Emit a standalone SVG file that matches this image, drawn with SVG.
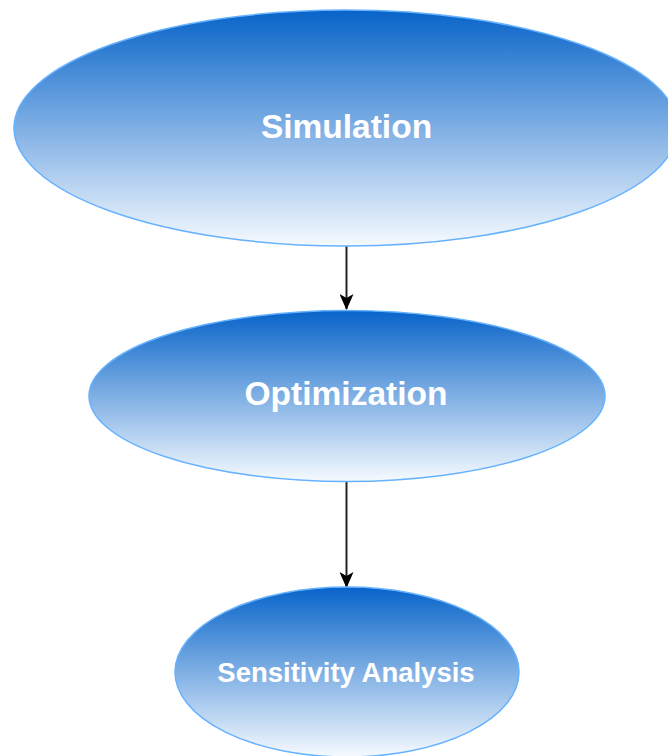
<svg xmlns="http://www.w3.org/2000/svg" width="668" height="756" viewBox="0 0 668 756">
  <style>
    .node { fill: url(#blueGrad); stroke: #66b2ff; stroke-width: 1.5; }
    .label { fill: #ffffff; font-family: "Liberation Sans", Arial, sans-serif; font-weight: bold; text-anchor: middle; }
    .edge { stroke: #222222; stroke-width: 2; fill: none; marker-end: url(#arrow); }
  </style>
  <defs>
    <linearGradient id="blueGrad" x1="0" y1="0" x2="0" y2="1">
      <stop offset="0" stop-color="#0864c9"/>
      <stop offset="1" stop-color="#f6faff"/>
    </linearGradient>
    <marker id="arrow" markerWidth="16" markerHeight="14" refX="15" refY="7" orient="auto" markerUnits="userSpaceOnUse" viewBox="0 0 16 14">
      <path d="M0,0 L16,7 L0,14 L4,7 Z" fill="#000000"/>
    </marker>
  </defs>
  <rect width="668" height="756" fill="#ffffff"/>
  <g id="connectors">
    <line class="edge" x1="346.5" y1="246" x2="346.5" y2="309"/>
    <line class="edge" x1="346.5" y1="482" x2="346.5" y2="587"/>
  </g>
  <g id="simulation">
    <ellipse class="node" cx="346" cy="128" rx="332" ry="118"/>
    <text class="label" x="346.5" y="138" font-size="33.5">Simulation</text>
  </g>
  <g id="optimization">
    <ellipse class="node" cx="347" cy="396" rx="258" ry="85.5"/>
    <text class="label" x="346" y="405" font-size="33.5">Optimization</text>
  </g>
  <g id="sensitivity">
    <ellipse class="node" cx="347" cy="672" rx="172" ry="85"/>
    <text class="label" x="346" y="681.5" font-size="27.5">Sensitivity Analysis</text>
  </g>
</svg>
